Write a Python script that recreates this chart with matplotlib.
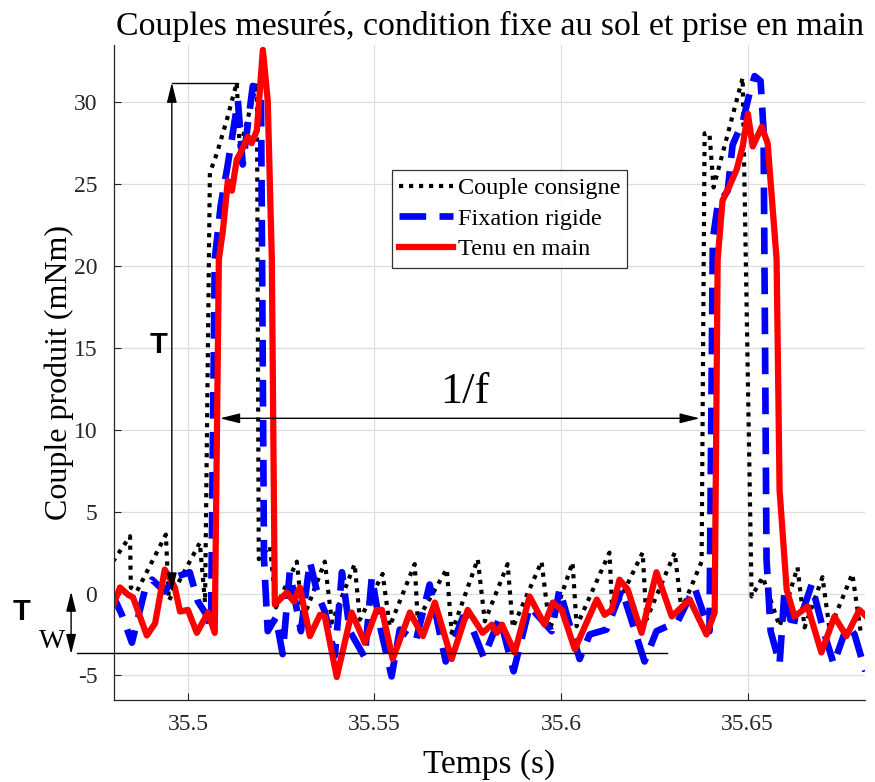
import matplotlib.pyplot as plt

plt.rcParams['font.family'] = ['Liberation Serif', 'DejaVu Serif']
plt.rcParams['axes.unicode_minus'] = False

# Couple consigne (reference torque)
t_consigne = [35.4799, 35.4845, 35.4847, 35.4863, 35.4941, 35.4949, 35.5032, 35.5046,
              35.5059, 35.5078, 35.5104, 35.5131, 35.5139, 35.5185, 35.5190, 35.5220,
              35.5236, 35.5292, 35.5308, 35.5367, 35.5386, 35.5447, 35.5461, 35.5522,
              35.5541, 35.5608, 35.5616, 35.5694, 35.5707, 35.5777, 35.5796, 35.5857,
              35.5871, 35.5948, 35.5970, 35.6031, 35.6042, 35.6130, 35.6138, 35.6219,
              35.6229, 35.6305, 35.6323, 35.6377, 35.6385, 35.6398, 35.6409, 35.6487,
              35.6511, 35.6541, 35.6586, 35.6634, 35.6653, 35.6701, 35.6720, 35.6781,
              35.6805]
c_consigne = [1.95, 3.5, 0.37, 0.12, 3.6, -0.43, 3.1, -0.55,
              25.7, 26.9, 28.9, 31.2, 27.1, 31.2, 2.1, 2.9,
              -0.85, 1.95, -1.6, 1.95, -1.77, 1.8, -1.6, 1.2,
              -2.0, 1.8, -1.6, 1.5, -2.4, 2.1, -1.7, 1.8,
              -2.07, 1.95, -2.2, 1.9, -2.0, 2.5, -1.3, 2.5,
              -1.6, 2.5, -1.0, 1.95, 28.1, 28.1, 24.8, 31.5,
              -0.18, 1.0, -2.0, 1.6, -2.07, 1.0, -2.2, 1.2,
              -2.6]

# Fixation rigide
t_rigide = [35.4796, 35.4823, 35.4850, 35.4885, 35.4904, 35.4938, 35.4965, 35.5005,
            35.5027, 35.5046, 35.5062, 35.5072, 35.5088, 35.5107, 35.5134, 35.5147,
            35.5174, 35.5196, 35.5204, 35.5214, 35.5236, 35.5254, 35.5273, 35.5303,
            35.5327, 35.5348, 35.5367, 35.5394, 35.5413, 35.5434, 35.5474, 35.5493,
            35.5517, 35.5546, 35.5568, 35.5611, 35.5648, 35.5691, 35.5737, 35.5755,
            35.5793, 35.5836, 35.5873, 35.5916, 35.5975, 35.5996, 35.6050, 35.6077,
            35.6122, 35.6163, 35.6224, 35.6256, 35.6313, 35.6358, 35.6398, 35.6407,
            35.6420, 35.6447, 35.6460, 35.6487, 35.6506, 35.6519, 35.6535, 35.6543,
            35.6551, 35.6562, 35.6586, 35.6599, 35.6615, 35.6639, 35.6672, 35.6704,
            35.6731, 35.6768, 35.6787, 35.6816]
c_rigide = [0.06, -1.3, -3.0, 0.24, 0.85, 0.12, 1.0, 1.3,
            -0.49, -1.16, -2.07, 20.4, 23.7, 26.2, 30.1, 26.2,
            31.0, 30.4, 2.1, -2.3, -1.46, -3.7, 1.3, -2.3,
            1.95, -0.06, -1.1, -3.8, 1.3, -2.3, -3.9, 1.0,
            -2.2, -5.06, -2.2, -2.9, 0.55, -4.15, -1.46, -1.7,
            -3.9, -1.46, -4.75, -0.79, -2.3, 0.24, -4.0, -2.5,
            -2.2, 0.24, -4.15, -2.3, -1.7, 0.37, -2.3, 21.6,
            23.7, 24.6, 27.4, 28.8, 30.6, 31.6, 31.3, 28.3,
            2.1, -2.3, -4.3, 0.12, -1.6, -1.7, 0.55, -2.3,
            -4.3, -1.9, -2.5, -4.75]

# Tenu en main
t_main = [35.4791, 35.4818, 35.4839, 35.4853, 35.4890, 35.4912, 35.4938, 35.4965,
          35.4979, 35.5000, 35.5024, 35.5054, 35.5072, 35.5083, 35.5094, 35.5107,
          35.5118, 35.5131, 35.5145, 35.5161, 35.5171, 35.5185, 35.5201, 35.5214,
          35.5225, 35.5233, 35.5252, 35.5265, 35.5284, 35.5300, 35.5327, 35.5354,
          35.5367, 35.5399, 35.5439, 35.5474, 35.5506, 35.5520, 35.5549, 35.5595,
          35.5630, 35.5662, 35.5707, 35.5750, 35.5790, 35.5815, 35.5828, 35.5842,
          35.5876, 35.5916, 35.5956, 35.5978, 35.6002, 35.6037, 35.6096, 35.6117,
          35.6136, 35.6157, 35.6179, 35.6216, 35.6256, 35.6297, 35.6345, 35.6390,
          35.6412, 35.6420, 35.6433, 35.6452, 35.6471, 35.6487, 35.6501, 35.6514,
          35.6538, 35.6554, 35.6578, 35.6586, 35.6605, 35.6626, 35.6661, 35.6698,
          35.6733, 35.6765, 35.6800, 35.6821]
c_main = [-1.3, 0.37, -0.06, -0.24, -2.56, -1.83, 1.46, 0.37,
          -1.1, -1.0, -2.4, -1.16, -2.4, 20.4, 22.2, 25.2,
          24.6, 26.5, 27.1, 27.9, 27.5, 28.3, 33.2, 30.1,
          20.4, -0.67, -0.24, 0.06, -0.49, 0.37, -2.6, -1.3,
          -1.4, -5.1, -1.16, -3.0, -1.0, -1.0, -4.0, -1.16,
          -2.6, -0.55, -4.0, -1.0, -2.4, -1.9, -2.4, -1.9,
          -3.6, -0.18, -1.9, -0.55, -1.0, -3.4, -0.37, -1.3,
          -1.0, 0.85, 0.24, -2.4, 1.3, -1.4, -0.37, -2.5,
          -1.16, 20.4, 24.0, 24.9, 25.9, 27.3, 29.3, 27.3,
          28.5, 27.5, 20.4, 6.3, 0.24, -1.4, -0.79, -3.6,
          -1.4, -2.6, -1.0, -1.46]

x_ticks = [35.5, 35.55, 35.6, 35.65]
x_labels = ['35.5', '35.55', '35.6', '35.65']
y_ticks = [-5, 0, 5, 10, 15, 20, 25, 30]

fig = plt.figure(figsize=(8.75, 7.82), dpi=100)
ax = fig.add_axes([0.1303, 0.1049, 0.8583, 0.8376])

ax.plot(t_consigne, c_consigne, color='black', lw=3.0, linestyle=(0, (1, 1.4)),
        dash_capstyle='butt', label='Couple consigne')
ax.plot(t_rigide, c_rigide, color='#0000ff', lw=4.8, linestyle=(0, (4, 2)),
        dash_capstyle='butt', label='Fixation rigide')
ax.plot(t_main, c_main, color='#ff0000', lw=4.5, label='Tenu en main')

ax.set_xlim(35.4802, 35.6815)
ax.set_ylim(-6.5, 33.5)
ax.set_xticks(x_ticks)
ax.set_xticklabels(x_labels)
ax.set_yticks(y_ticks)
ax.tick_params(direction='in', length=5, width=0.8, labelsize=17, colors='#262626')
ax.tick_params(axis='x', pad=10)
ax.tick_params(axis='y', pad=12)
ax.grid(True, color='#dedede', lw=0.9)
ax.set_axisbelow(True)
for s in ['top', 'right']:
    ax.spines[s].set_visible(False)
for s in ['left', 'bottom']:
    ax.spines[s].set_color('#262626')
    ax.spines[s].set_linewidth(0.9)

ax.set_title('Couples mesurés, condition fixe au sol et prise en main', fontsize=24.4, pad=7)
ax.set_xlabel('Temps (s)', fontsize=24, labelpad=10)
ax.set_ylabel('Couple produit (mNm)', fontsize=23, labelpad=0)

leg = ax.legend(loc='upper left', bbox_to_anchor=(0.370, 0.809), fontsize=17.5,
                frameon=True, fancybox=False, edgecolor='black', handlelength=2.2,
                handletextpad=0.2, borderpad=0.3, labelspacing=0.35, borderaxespad=0)
leg.get_frame().set_linewidth(0.9)

# annotations: T, 1/f, Tw
arr = dict(arrowstyle='<|-|>,head_length=1.2,head_width=0.3', color='black', lw=1,
           shrinkA=0, shrinkB=0)
ax.annotate('', xy=(35.4957, 31.2), xytext=(35.4957, 0.06), arrowprops=arr)
ax.plot([35.4957, 35.5134], [31.2, 31.2], color='black', lw=1)
ax.text(35.4922, 15.2, 'T', fontsize=21, fontweight='bold', family='Liberation Sans',
        ha='center', va='center')

ax.annotate('', xy=(35.5086, 10.7), xytext=(35.6372, 10.7), arrowprops=arr)
ax.text(35.5742, 12.3, '1/f', fontsize=32, ha='center', va='center')

ax.annotate('', xy=(35.4687, 0.12), xytext=(35.4687, -3.7), arrowprops=arr,
            annotation_clip=False)
ax.plot([35.4703, 35.6283], [-3.66, -3.66], color='black', lw=1, clip_on=False)
ax.text(35.4555, -1.1, 'T', fontsize=21, fontweight='bold', family='Liberation Sans',
        ha='center', va='center')
ax.text(35.4636, -2.9, 'W', fontsize=20, ha='center', va='center')

plt.savefig('out.png', dpi=100)
